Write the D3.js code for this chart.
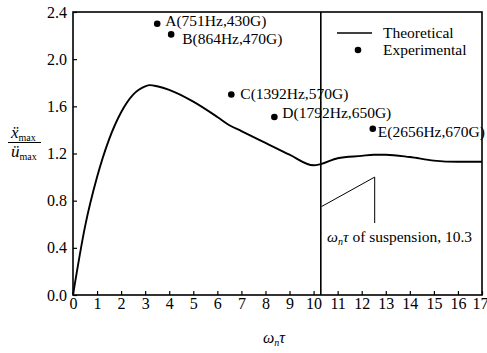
<!DOCTYPE html>
<html><head><meta charset="utf-8">
<script src="https://cdn.jsdelivr.net/npm/d3@7"></script>
<style>body{margin:0;background:#fff}svg{display:block}</style>
</head><body><div id="c"></div>
<script>
const theoX = [0,0.5,1,1.5,2,2.5,3,3.2,3.5,4,5,6,6.5,7,8,9,10,10.3,11,12,12.5,13,14,15,16,17];
const theoY = [0,0.58,1.00,1.32,1.55,1.70,1.77,1.78,1.77,1.74,1.64,1.51,1.44,1.39,1.29,1.19,1.10,1.11,1.16,1.18,1.19,1.19,1.17,1.14,1.13,1.13];
const expX = [3.5,4.08,6.58,8.37,12.46];
const expY = [2.30,2.21,1.70,1.51,1.41];
const expLabels = ["A(751Hz,430G)","B(864Hz,470G)","C(1392Hz,570G)","D(1792Hz,650G)","E(2656Hz,670G)"];
const xTicks = d3.range(0,18);
const yTicks = [0,0.4,0.8,1.2,1.6,2.0,2.4];
const suspension = 10.3;

// layout-only offsets for point labels
const labDx = [8,11,9,8,5];
const labDy = [2,9.5,4.5,1.5,8.5];

const FF = '"Liberation Serif","Times New Roman",Times,serif';
const W=487,H=353, L=73,R=482,T=12,B=295;
const svg=d3.select("#c").append("svg").attr("width",W).attr("height",H)
  .style("font-family",FF);
const x=d3.scaleLinear().domain([0,17]).range([L,R]);
const y=d3.scaleLinear().domain([0,2.4]).range([B,T]);

// frame
svg.append("rect").attr("x",L).attr("y",T).attr("width",R-L).attr("height",B-T).attr("fill","none").attr("stroke","#000").attr("stroke-width",1.6);

const xa=svg.append("g").attr("transform",`translate(0,${B})`).call(d3.axisBottom(x).tickValues(xTicks).tickSize(-4).tickPadding(3).tickFormat(d3.format("d")));
const ya=svg.append("g").attr("transform",`translate(${L},0)`).call(d3.axisLeft(y).tickValues(yTicks).tickSize(-4).tickPadding(6).tickFormat(d3.format(".1f")));
[xa,ya].forEach(a=>{a.attr("font-family",null).attr("font-size",null);a.select(".domain").remove();a.selectAll("line").attr("stroke","#000").attr("stroke-width",1.2);a.selectAll("text").style("font-family",FF).style("font-size","16px").attr("fill","#000");});
xa.selectAll(".tick:last-of-type text").attr("dx",-2);

// theoretical curve
svg.append("path").datum(theoX.map((d,i)=>[d,theoY[i]]))
 .attr("d",d3.line().curve(d3.curveMonotoneX).x(d=>x(d[0])).y(d=>y(d[1])))
 .attr("fill","none").attr("stroke","#000").attr("stroke-width",1.9);

// suspension line
svg.append("line").attr("x1",x(suspension)).attr("x2",x(suspension)).attr("y1",T).attr("y2",B).attr("stroke","#000").attr("stroke-width",1.6);

// experimental points
svg.selectAll("circle.e").data(expX).join("circle").attr("class","e").attr("cx",d=>x(d)).attr("cy",(d,i)=>y(expY[i])).attr("r",3.3).attr("fill","#000");
svg.selectAll("text.e").data(expLabels).join("text").attr("class","e")
  .attr("x",(d,i)=>x(expX[i])+labDx[i]).attr("y",(d,i)=>y(expY[i])+labDy[i])
  .style("font-size","15.5px").text(d=>d);

// annotation
svg.append("path").attr("d",d3.line()([[x(10.33),y(0.75)],[x(12.54),y(1.0)],[x(12.54),y(0.61)]])).attr("fill","none").attr("stroke","#000").attr("stroke-width",1);
const ann=svg.append("text").attr("x",327).attr("y",242).style("font-size","15.5px");
ann.append("tspan").attr("font-style","italic").text("ω");
ann.append("tspan").attr("font-style","italic").style("font-size","10px").attr("dy",3).text("n");
ann.append("tspan").attr("font-style","italic").attr("dy",-3).text("τ");
ann.append("tspan").text(" of suspension, 10.3");

// legend
svg.append("line").attr("x1",337).attr("x2",372).attr("y1",33).attr("y2",33).attr("stroke","#000").attr("stroke-width",1.6);
svg.append("circle").attr("cx",358).attr("cy",50).attr("r",3.3).attr("fill","#000");
svg.append("text").attr("x",383).attr("y",37.5).style("font-size","15.5px").text("Theoretical");
svg.append("text").attr("x",383).attr("y",55).style("font-size","15.5px").text("Experimental");

// y label
const yl=svg.append("g");
const n=yl.append("text").attr("x",11).attr("y",138).style("font-size","17px");
n.append("tspan").attr("font-style","italic").text("ẍ");
n.append("tspan").style("font-size","10px").attr("dy",3).text("max");
yl.append("line").attr("x1",8).attr("x2",41).attr("y1",142.5).attr("y2",142.5).attr("stroke","#000").attr("stroke-width",1);
const dn=yl.append("text").attr("x",11).attr("y",157).style("font-size","17px");
dn.append("tspan").attr("font-style","italic").text("ü");
dn.append("tspan").style("font-size","10px").attr("dy",3).text("max");

// x label
const xl=svg.append("text").attr("x",263).attr("y",343).style("font-size","16px");
xl.append("tspan").attr("font-style","italic").text("ω");
xl.append("tspan").attr("font-style","italic").style("font-size","10px").attr("dy",3).text("n");
xl.append("tspan").attr("font-style","italic").attr("dy",-3).text("τ");
</script></body></html>
